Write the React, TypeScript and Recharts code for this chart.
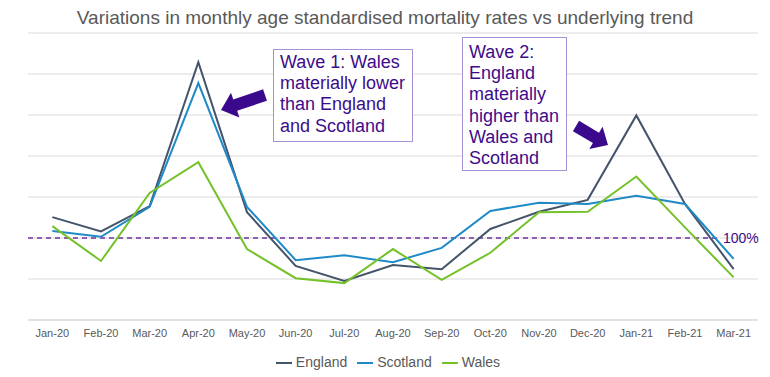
import React from "react";
import {
  LineChart,
  Line,
  XAxis,
  YAxis,
  CartesianGrid,
  Legend,
  ReferenceLine,
} from "recharts";

const months = [
  "Jan-20", "Feb-20", "Mar-20", "Apr-20", "May-20", "Jun-20", "Jul-20", "Aug-20",
  "Sep-20", "Oct-20", "Nov-20", "Dec-20", "Jan-21", "Feb-21", "Mar-21",
];
const england = [105.1, 101.6, 107.8, 142.9, 106.3, 93.2, 89.5, 93.4, 92.4, 102.2, 106.4, 109.3, 129.9, 108.3, 92.4];
const scotland = [101.7, 100.3, 107.6, 137.8, 107.6, 94.6, 95.8, 94.1, 97.6, 106.6, 108.6, 108.3, 110.3, 108.3, 94.9];
const wales = [102.9, 94.4, 111.0, 118.5, 97.3, 90.2, 89.0, 97.3, 89.8, 96.4, 106.3, 106.4, 115.0, 102.6, 90.4];
const yTicks = [80, 90, 100, 110, 120, 130, 140, 150];

const data = months.map((m, i) => ({
  month: m,
  England: england[i],
  Scotland: scotland[i],
  Wales: wales[i],
}));

const FONT = "Arial, 'Liberation Sans', sans-serif";
const PURPLE = "#3d0c8a";

// block arrow polygon from tail (sx,sy) to tip (ex,ey)
function arrowPoints(sx: number, sy: number, ex: number, ey: number, shaft: number, headW: number, headL: number) {
  const dx = ex - sx;
  const dy = ey - sy;
  const len = Math.hypot(dx, dy);
  const ux = dx / len;
  const uy = dy / len;
  const px = -uy;
  const py = ux;
  const bx = ex - ux * headL;
  const by = ey - uy * headL;
  const pts = [
    [sx + px * shaft / 2, sy + py * shaft / 2],
    [bx + px * shaft / 2, by + py * shaft / 2],
    [bx + px * headW / 2, by + py * headW / 2],
    [ex, ey],
    [bx - px * headW / 2, by - py * headW / 2],
    [bx - px * shaft / 2, by - py * shaft / 2],
    [sx - px * shaft / 2, sy - py * shaft / 2],
  ];
  return pts.map((p) => p.join(",")).join(" ");
}

function DashedHundred(props: any) {
  const { x1, y1, x2 } = props;
  return (
    <line
      x1={x1}
      y1={y1}
      x2={x2 - 38}
      y2={y1}
      stroke="#7030a0"
      strokeWidth={1.3}
      strokeDasharray="5 4"
    />
  );
}

function HundredLabel(props: any) {
  const vb = props.viewBox || {};
  return (
    <text
      x={vb.x + vb.width - 35}
      y={vb.y + 5}
      fill={PURPLE}
      fontSize={14}
      fontFamily={FONT}
    >
      100%
    </text>
  );
}

const boxStyle: React.CSSProperties = {
  position: "absolute",
  border: "1.5px solid #a690d6",
  background: "#fff",
  color: PURPLE,
  fontFamily: FONT,
  fontSize: 18,
  lineHeight: "21.2px",
  boxSizing: "border-box",
};

export default function App() {
  return (
    <div style={{ position: "absolute", left: 0, top: 0, width: 770, height: 377, background: "#fff" }}>
      <div
        style={{
          position: "absolute",
          left: 0,
          top: 7,
          width: 770,
          textAlign: "center",
          fontFamily: FONT,
          fontSize: 19,
          color: "#595959",
        }}
      >
        Variations in monthly age standardised mortality rates vs underlying trend
      </div>
      <LineChart
        width={770}
        height={377}
        data={data}
        margin={{ top: 33, right: 12, left: 28, bottom: 0 }}
      >
        <CartesianGrid vertical={false} stroke="#d9d9d9" />
        <XAxis
          dataKey="month"
          scale="band"
          height={25}
          tick={{ fill: "#595959", fontSize: 11, fontFamily: FONT }}
          axisLine={{ stroke: "#d9d9d9" }}
          tickLine={false}
          interval={0}
          tickMargin={3}
        />
        <YAxis hide domain={[80, 150]} ticks={yTicks} />
        <ReferenceLine
          y={100}
          shape={<DashedHundred />}
          label={<HundredLabel />}
        />
        <Legend
          verticalAlign="bottom"
          height={32}
          iconType="plainline"
          iconSize={16}
          wrapperStyle={{ fontFamily: FONT, fontSize: 14, color: "#595959", bottom: -9 }}
          formatter={(v: string) => <span style={{ color: "#595959" }}>{v}</span>}
        />
        <Line dataKey="England" stroke="#44546a" strokeWidth={2} dot={false} isAnimationActive={false} />
        <Line dataKey="Scotland" stroke="#1f8ac6" strokeWidth={2} dot={false} isAnimationActive={false} />
        <Line dataKey="Wales" stroke="#74c12a" strokeWidth={2} dot={false} isAnimationActive={false} />
      </LineChart>
      <div style={{ ...boxStyle, left: 273, top: 49, width: 140, height: 93, padding: "2px 0 0 6px" }}>
        Wave 1: Wales
        <br />
        materially lower
        <br />
        than England
        <br />
        and Scotland
      </div>
      <div style={{ ...boxStyle, left: 462, top: 37, width: 105, height: 134, padding: "4px 0 0 6px" }}>
        Wave 2:
        <br />
        England
        <br />
        materially
        <br />
        higher than
        <br />
        Wales and
        <br />
        Scotland
      </div>
      <svg
        width={770}
        height={377}
        style={{ position: "absolute", left: 0, top: 0, pointerEvents: "none" }}
      >
        <polygon points={arrowPoints(265, 95, 221, 110, 12, 26, 15)} fill="#3b0a8c" />
        <polygon points={arrowPoints(576, 126, 608, 145, 12, 26, 14)} fill="#3b0a8c" />
      </svg>
    </div>
  );
}
